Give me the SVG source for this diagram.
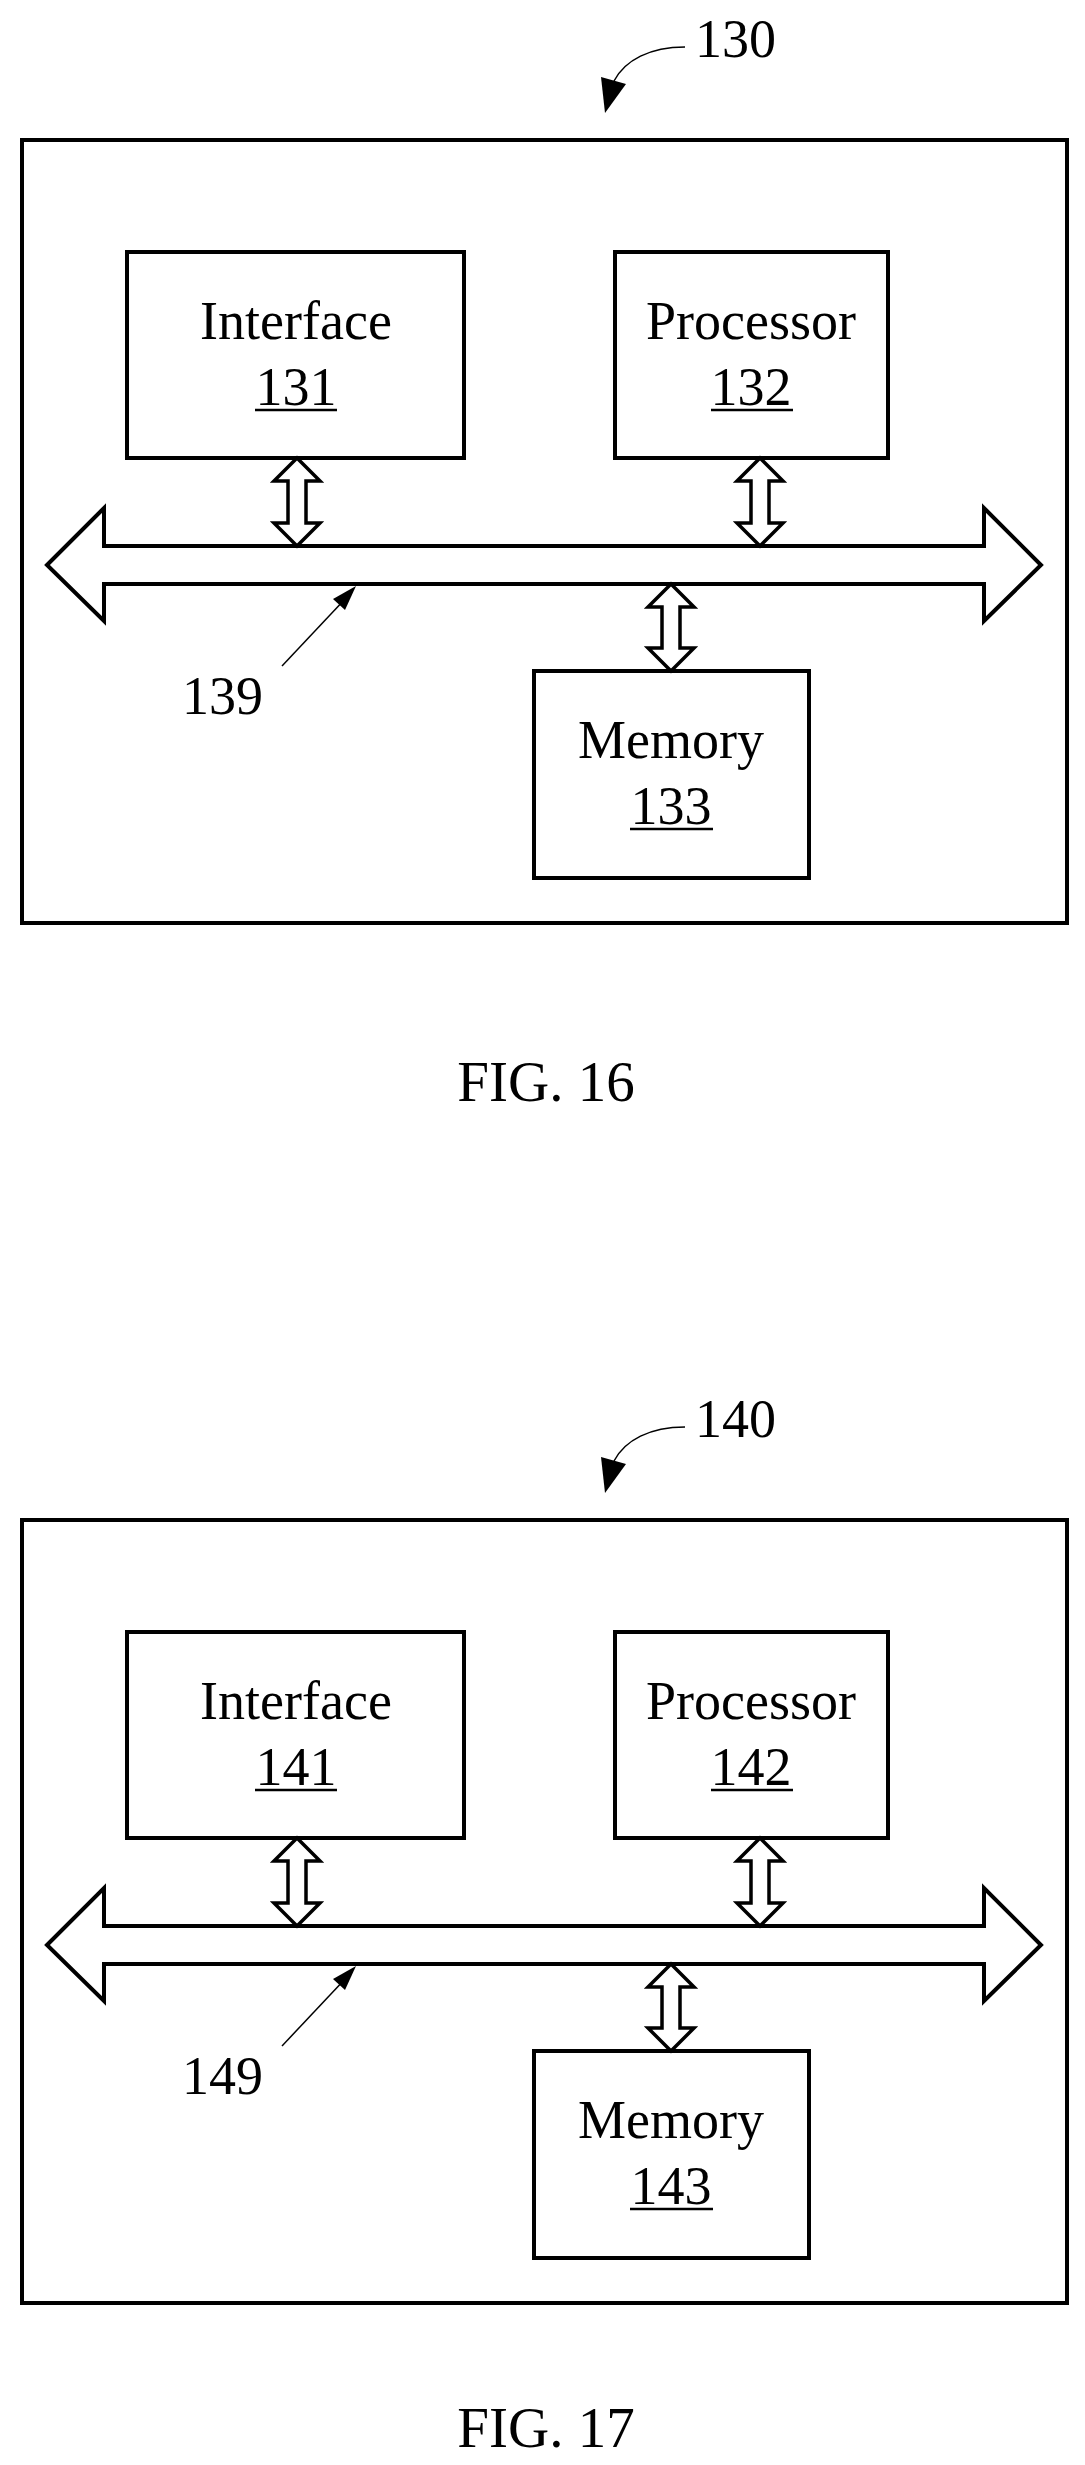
<svg xmlns="http://www.w3.org/2000/svg" width="1085" height="2465" viewBox="0 0 1085 2465">
<style>
.b{fill:none;stroke:#000;stroke-width:4}
.a{fill:#fff;stroke:#000;stroke-width:4;stroke-linejoin:miter}
.s{fill:#fff;stroke:#000;stroke-width:3.5}
.t{font-family:"Liberation Serif",serif;font-size:54px;text-anchor:middle;fill:#000}
.l{font-family:"Liberation Serif",serif;font-size:54px;fill:#000}
.u{stroke:#000;stroke-width:2.5}
.f{font-family:"Liberation Serif",serif;font-size:57px;text-anchor:middle;fill:#000}
.thin{fill:none;stroke:#000;stroke-width:1.5}
</style>
<g id="fig16">
<rect id="box130" class="b" x="22" y="140" width="1045" height="783"/>
<g id="n131"><rect class="b" x="127" y="252" width="337" height="206"/><text class="t" x="296" y="339">Interface</text><text class="t" x="296" y="405">131</text><line class="u" x1="255" y1="410" x2="337" y2="410"/></g>
<g id="n132"><rect class="b" x="615" y="252" width="273" height="206"/><text class="t" x="751" y="339">Processor</text><text class="t" x="751" y="405">132</text><line class="u" x1="711" y1="410" x2="793" y2="410"/></g>
<g id="n133"><rect class="b" x="534" y="671" width="275" height="207"/><text class="t" x="671" y="758">Memory</text><text class="t" x="671" y="824">133</text><line class="u" x1="630" y1="829" x2="713" y2="829"/></g>
<g id="c16">
<polygon class="a" points="47,565 104,508 104,546 984,546 984,508 1041,565 984,621 984,584 104,584 104,621"/>
<polygon class="s" points="297,458 320,481 306,481 306,523 320,523 297,546 274,523 288,523 288,481 274,481"/>
<polygon class="s" points="760,458 783,481 769,481 769,523 783,523 760,546 737,523 751,523 751,481 737,481"/>
<polygon class="s" points="671,584 694,607 680,607 680,648 694,648 671,671 648,648 662,648 662,607 648,607"/>
<path class="thin" d="M685,47 C650,47 625,60 614,81"/>
<polygon points="605,113 601,77 626,84"/>
<line class="thin" x1="282" y1="666" x2="346" y2="598"/>
<polygon points="356,586 345,610 333,599"/>
</g>
<text class="l" x="695" y="57">130</text>
<text class="l" x="182" y="714">139</text>
<text class="f" x="546" y="1101">FIG. 16</text>
</g>
<g id="fig17">
<rect id="box140" class="b" x="22" y="1520" width="1045" height="783"/>
<g id="n141"><rect class="b" x="127" y="1632" width="337" height="206"/><text class="t" x="296" y="1719">Interface</text><text class="t" x="296" y="1785">141</text><line class="u" x1="255" y1="1790" x2="337" y2="1790"/></g>
<g id="n142"><rect class="b" x="615" y="1632" width="273" height="206"/><text class="t" x="751" y="1719">Processor</text><text class="t" x="751" y="1785">142</text><line class="u" x1="711" y1="1790" x2="793" y2="1790"/></g>
<g id="n143"><rect class="b" x="534" y="2051" width="275" height="207"/><text class="t" x="671" y="2138">Memory</text><text class="t" x="671" y="2204">143</text><line class="u" x1="630" y1="2209" x2="713" y2="2209"/></g>
<g id="c17">
<polygon class="a" points="47,1945 104,1888 104,1926 984,1926 984,1888 1041,1945 984,2001 984,1964 104,1964 104,2001"/>
<polygon class="s" points="297,1838 320,1861 306,1861 306,1903 320,1903 297,1926 274,1903 288,1903 288,1861 274,1861"/>
<polygon class="s" points="760,1838 783,1861 769,1861 769,1903 783,1903 760,1926 737,1903 751,1903 751,1861 737,1861"/>
<polygon class="s" points="671,1964 694,1987 680,1987 680,2028 694,2028 671,2051 648,2028 662,2028 662,1987 648,1987"/>
<path class="thin" d="M685,1427 C650,1427 625,1440 614,1461"/>
<polygon points="605,1493 601,1457 626,1464"/>
<line class="thin" x1="282" y1="2046" x2="346" y2="1978"/>
<polygon points="356,1966 345,1990 333,1979"/>
</g>
<text class="l" x="695" y="1437">140</text>
<text class="l" x="182" y="2094">149</text>
<text class="f" x="546" y="2447">FIG. 17</text>
</g>
</svg>
